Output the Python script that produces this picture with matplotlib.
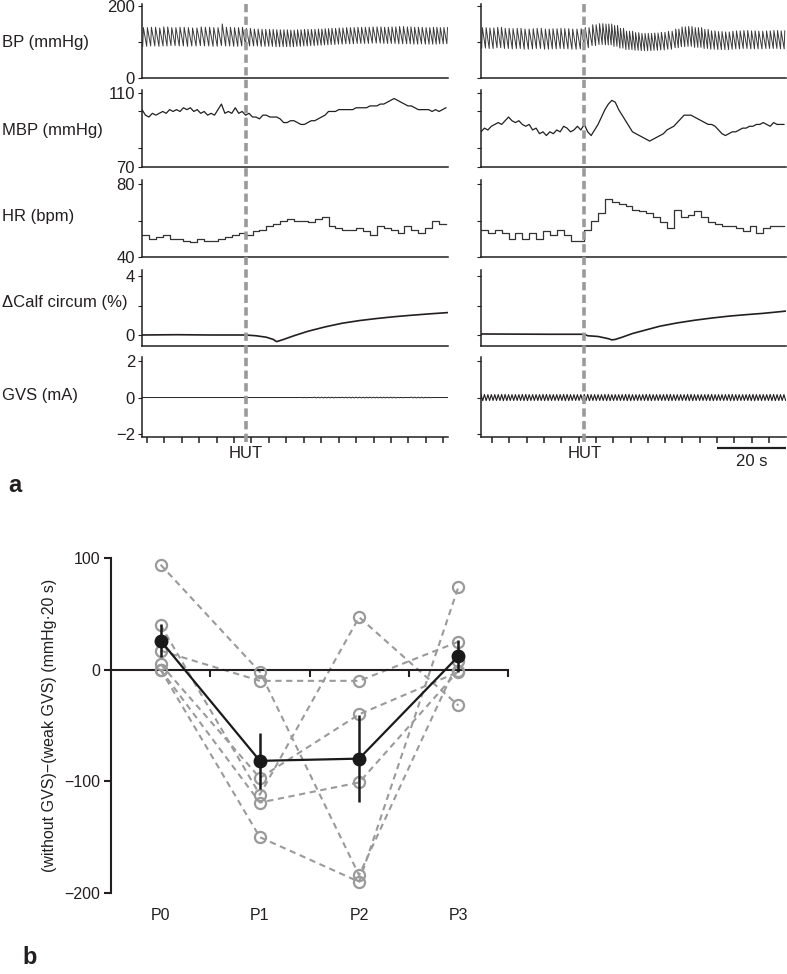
import numpy as np
import matplotlib
matplotlib.use('Agg')
import matplotlib.pyplot as plt
from matplotlib.transforms import blended_transform_factory

plt.rcParams['font.family'] = ['Liberation Sans', 'DejaVu Sans']

# ---------------- data: panel a ----------------
BIN_W = 2.0  # s, HR / BP bins
# heart rate per 2-s bin (bpm)
hr_left = [52, 50, 51, 52, 50, 50, 49, 48, 50, 49, 49, 50, 51, 52, 53, 52, 54, 55, 57, 58, 60, 61,
           60, 60, 59, 61, 62, 57, 56, 55, 55, 56, 54, 52, 57, 56, 55, 53, 57, 55, 53, 56, 60, 58]
hr_right = [55, 53, 55, 53, 50, 53, 50, 53, 50, 54, 52, 55, 52, 49, 49, 55, 60, 64, 72, 70, 69, 68,
            66, 65, 64, 62, 59, 56, 66, 62, 63, 65, 62, 59, 58, 57, 57, 56, 54, 57, 53, 56, 57, 57]
# systolic / diastolic pressure per 2-s bin (mmHg)
sys_left = [140, 141, 139, 142, 140, 141, 140, 139, 142, 141, 140, 150, 141, 140, 141, 138,
            136, 135, 135, 134, 134, 133, 134, 135, 135, 136, 137, 138,
            139, 140, 140, 141, 141, 142, 142, 141, 142, 143, 142, 141, 141, 140, 141, 140]
dia_left = [88, 89, 88, 89, 90, 89, 88, 89, 90, 89, 88, 90, 89, 88, 89, 89,
            89, 88, 88, 87, 87, 87, 88, 89, 90, 91, 92, 93,
            94, 95, 95, 96, 96, 97, 97, 96, 96, 95, 95, 94, 95, 94, 94, 95]
sys_right = [140, 139, 141, 138, 137, 138, 136, 137, 138, 136, 137, 138, 137, 136, 137, 140,
             148, 151, 150, 146, 138, 130, 126, 124, 124, 125, 127, 130, 136, 142, 143, 140,
             135, 131, 129, 128, 130, 131, 132, 131, 130, 131, 132, 131]
dia_right = [83, 82, 84, 82, 81, 82, 80, 81, 82, 80, 81, 82, 81, 80, 81, 84,
             90, 93, 92, 88, 83, 79, 77, 76, 76, 77, 78, 80, 84, 87, 88, 85,
             82, 80, 79, 79, 80, 81, 82, 81, 81, 82, 82, 81]
# mean blood pressure, 1-s samples (mmHg)
mbp_left = [101, 98, 97, 99, 98, 99, 100, 99, 101, 100, 101, 100, 102, 101, 102, 100, 101, 99, 100, 98,
            99, 98, 101, 104, 99, 100, 99, 102, 99, 100, 98, 99, 97, 97, 96, 98, 98, 97, 97, 97,
            96, 94, 94, 95, 95, 94, 93, 93, 94, 95, 95, 96, 97, 98, 100, 100, 100, 101, 101, 101,
            101, 101, 102, 102, 102, 102, 103, 103, 103, 104, 104, 105, 106, 107, 106, 105, 104, 103, 103, 102,
            101, 101, 101, 101, 100, 101, 100, 101, 102]
mbp_right = [89, 91, 90, 92, 93, 94, 93, 95, 97, 95, 94, 95, 93, 92, 93, 90, 91, 88, 89, 87,
             89, 88, 90, 89, 92, 91, 89, 90, 92, 90, 93, 89, 87, 90, 93, 97, 101, 104, 106, 105,
             101, 98, 95, 92, 89, 88, 87, 86, 85, 84, 85, 86, 87, 88, 90, 91, 92, 94, 96, 98,
             98, 98, 97, 96, 95, 94, 93, 93, 92, 90, 88, 87, 88, 89, 89, 90, 91, 91, 92, 92,
             93, 93, 94, 93, 92, 94, 93, 93, 93]
# calf circumference change (%)
calf_left_t = [0, 10, 20, 30, 33, 36, 38, 39, 41, 44, 48, 53, 58, 63, 68, 73, 78, 83, 88.5]
calf_left = [0.0, 0.02, 0.0, 0.0, -0.05, -0.15, -0.3, -0.45, -0.3, -0.05, 0.25, 0.55, 0.8, 0.98,
             1.12, 1.24, 1.34, 1.43, 1.52]
calf_right_t = [0, 10, 20, 30, 31, 34, 37, 38, 39, 41, 44, 48, 52, 57, 62, 67, 72, 77, 82, 88.5]
calf_right = [0.07, 0.06, 0.05, 0.05, -0.05, -0.1, -0.25, -0.33, -0.3, -0.15, 0.1, 0.35, 0.6, 0.82,
              1.0, 1.15, 1.28, 1.38, 1.47, 1.62]
# GVS current amplitude per 2-s bin (mA)
gvs_left_amp = [0.0] * 22 + [0.0, 0.01, 0.0, 0.02, 0.02, 0.02, 0.01, 0.02, 0.02, 0.02, 0.02, 0.02,
                             0.02, 0.02, 0.02, 0.01, 0.0, 0.02, 0.02, 0.01, 0.0, 0.0]
gvs_right_amp = [0.17, 0.16, 0.16, 0.17, 0.16, 0.16, 0.17, 0.16, 0.16, 0.17, 0.16, 0.16, 0.17, 0.16,
                 0.16, 0.17, 0.16, 0.16, 0.17, 0.16, 0.16, 0.17, 0.16, 0.16, 0.17, 0.16, 0.16, 0.17,
                 0.16, 0.16, 0.17, 0.16, 0.16, 0.17, 0.16, 0.16, 0.17, 0.16, 0.16, 0.17, 0.16, 0.16,
                 0.17, 0.16]
gvs_freq_hz = 1.0
hut_time = 30.0
row_labels = ['BP (mmHg)', 'MBP (mmHg)', 'HR (bpm)', '\u0394Calf circum (%)', 'GVS (mA)']

# ---------------- data: panel b ----------------
periods = ['P0', 'P1', 'P2', 'P3']
subj_A = [94, -2, -184, 8]
subj_B = [17, -10, -10, 25]
subj_C = [40, -112, 47, -32]
subj_D = [5, -97, -40, -2]
subj_E = [0, -119, -101, -1]
subj_F = [0, -150, -190, 74]
subjects = [subj_A, subj_B, subj_C, subj_D, subj_E, subj_F]

# ---------------- figure ----------------
W, H = 787, 974
fig = plt.figure(figsize=(W / 100, H / 100), dpi=100)
INK = '#231f20'
GREY = '#9a9a9a'


def ax_px(x0, y0, x1, y1):
    return fig.add_axes([x0 / W, 1 - y1 / H, (x1 - x0) / W, (y1 - y0) / H])


def bp_wave(hr, sbp, dbp, t_end):
    ts, vs = [], []
    t = 0.2
    while t < t_end:
        i = min(int(t // BIN_W), len(hr) - 1)
        rr = 60.0 / hr[i]
        ts += [t, t + 0.18 * rr]
        vs += [dbp[i], sbp[i]]
        t += rr
    return ts, vs


def gvs_wave(amp, t_end):
    ts, vs = [], []
    k = 0
    t = 0.0
    while t < t_end:
        i = min(int(t // BIN_W), len(amp) - 1)
        ts.append(t)
        vs.append(amp[i] if k % 2 == 0 else -amp[i])
        k += 1
        t = k / (2 * gvs_freq_hz)
    return ts, vs


rows = [  # top px, bottom px, ylim, ticks, labels
    (4, 78, (0, 205.6), [0, 100, 200], ['0', '', '200']),
    (90, 167, (70, 111.6), [70, 80, 100, 110], ['70', '', '', '110']),
    (180, 257, (40, 82.2), [40, 60, 80], ['40', '', '80']),
    (270, 346, (-0.746, 4.41), [0, 2, 4], ['0', '', '4']),
    (357, 437, (-2.16, 2.22), [-2, 0, 2], ['\u22122', '0', '2']),
]
label_y = [42, 130, 217, 302, 396]
XMAX = 88.6
cols = [(142, 448), (481, 786)]
col_data = [
    (hr_left, sys_left, dia_left, mbp_left, calf_left_t, calf_left, gvs_left_amp),
    (hr_right, sys_right, dia_right, mbp_right, calf_right_t, calf_right, gvs_right_amp),
]
tick_sets = [np.arange(1.4, 88.0, 5.05), np.arange(3.2, 86.0, 5.03)]

for ci, (x0, x1) in enumerate(cols):
    hr, sbp, dbp, mbp, ct, cv, gv = col_data[ci]
    axes = []
    for ri, (top, bot, yl, yt, ytl) in enumerate(rows):
        ax = ax_px(x0, top, x1, bot)
        ax.set_xlim(0, XMAX)
        ax.set_ylim(*yl)
        for s in ['top', 'right']:
            ax.spines[s].set_visible(False)
        for s in ['left', 'bottom']:
            ax.spines[s].set_color(INK)
            ax.spines[s].set_linewidth(1.1)
        ax.set_yticks(yt)
        ax.set_yticklabels(ytl if ci == 0 else [''] * len(yt))
        ax.tick_params(axis='y', direction='out', length=3, width=0.8, colors=INK,
                       labelsize=12, pad=2)
        if ri < 4:
            ax.set_xticks([])
        else:
            ax.set_xticks(tick_sets[ci])
            ax.set_xticklabels([])
            ax.tick_params(axis='x', direction='out', length=4, width=1.1, colors=INK)
        ax.patch.set_alpha(0)
        axes.append(ax)
        if ci == 0:
            fig.text(2 / W, 1 - label_y[ri] / H, row_labels[ri], fontsize=12, color=INK,
                     ha='left', va='center')
    tb, vb = bp_wave(hr, sbp, dbp, XMAX)
    axes[0].plot(tb, vb, color='#3a3a3a', lw=0.7)
    tm = np.arange(len(mbp))
    axes[1].plot(tm, mbp, color=INK, lw=0.9)
    th = np.arange(len(hr) + 1) * BIN_W
    axes[2].step(th, list(hr) + [hr[-1]], where='post', color='#333333', lw=0.9)
    axes[3].plot(ct, cv, color=INK, lw=1.2)
    tg, vg = gvs_wave(gv, XMAX)
    axes[4].plot(tg, vg, color=INK, lw=0.8 if ci == 1 else 0.7)

    # HUT dashed line spanning the column
    ov = ax_px(x0, 0, x1, 442)
    ov.set_xlim(0, XMAX)
    ov.set_ylim(0, 1)
    ov.axis('off')
    ov.axvline(hut_time, color=GREY, lw=2.6, linestyle=(0, (2.3, 1.2)))
    fig.text((x0 + hut_time * (x1 - x0) / XMAX) / W, 1 - 453 / H, 'HUT', fontsize=12,
             color=INK, ha='center', va='center')

# scale bar 20 s (right column)
sb = ax_px(481, 440, 786, 470)
sb.set_xlim(0, XMAX)
sb.set_ylim(0, 1)
sb.axis('off')
sb.plot([XMAX - 20, XMAX], [0.73, 0.73], color=INK, lw=1.6, solid_capstyle='butt')
sb.text(XMAX - 10, 0.3, '20 s', fontsize=12, color=INK, ha='center', va='center')

fig.text(8 / W, 1 - 486 / H, 'a', fontsize=17, fontweight='bold', color=INK, ha='left', va='center')
fig.text(22 / W, 1 - 957 / H, 'b', fontsize=17, fontweight='bold', color=INK, ha='left', va='center')

# ---------------- panel b ----------------
axb = ax_px(111, 558, 508, 893)
axb.set_xlim(-0.5, 3.5)
axb.set_ylim(-200, 100)
axb.patch.set_alpha(0)
axb.spines['top'].set_visible(False)
axb.spines['right'].set_visible(False)
axb.spines['bottom'].set_position(('data', 0))
for s in ['left', 'bottom']:
    axb.spines[s].set_color(INK)
    axb.spines[s].set_linewidth(1.5)
axb.set_yticks([-200, -100, 0, 100])
axb.set_yticklabels(['\u2212200', '\u2212100', '0', '100'])
axb.set_xticks([0.5, 1.5, 2.5, 3.5])
axb.set_xticklabels([])
axb.tick_params(axis='y', direction='out', length=5, width=1.5, colors=INK, labelsize=11.5, pad=3)
axb.tick_params(axis='x', direction='out', length=5, width=1.5, colors=INK)
xs = np.arange(len(periods))
for sv in subjects:
    axb.plot(xs, sv, color=GREY, lw=1.5, linestyle=(0, (3, 2.2)), zorder=2)
    axb.plot(xs, sv, linestyle='none', marker='o', ms=8, mfc='none', mec=GREY, mew=1.6, zorder=3)
arr = np.array(subjects, dtype=float)
mean = arr.mean(axis=0)
sem = arr.std(axis=0, ddof=1) / np.sqrt(arr.shape[0])
axb.errorbar(xs, mean, yerr=sem, fmt='-o', color='#1a1a1a', ms=9, lw=1.6, elinewidth=1.8,
             capsize=0, zorder=5)
tr = blended_transform_factory(axb.transData, axb.transAxes)
for i, p in enumerate(periods):
    axb.text(i, -0.066, p, transform=tr, fontsize=11.5, color=INK, ha='center', va='center')
axb.set_ylabel('(without GVS)\u2212(weak GVS) (mmHg\u00b720 s)', fontsize=11.5, color=INK, labelpad=5)

fig.savefig('out.png', dpi=100)
